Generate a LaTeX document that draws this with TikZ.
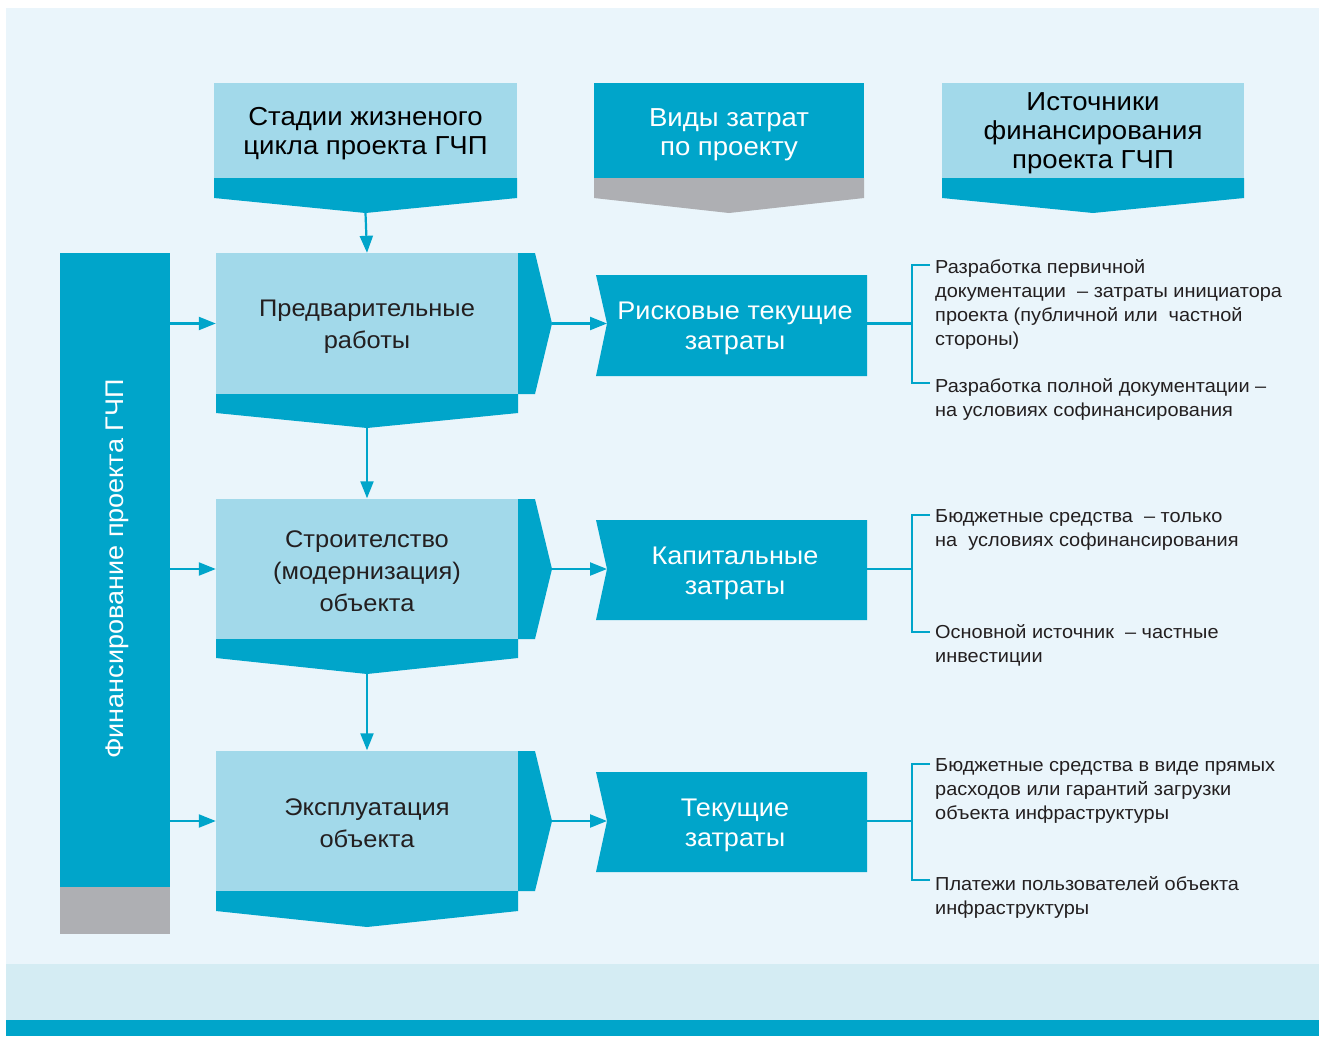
\documentclass[tikz,border=0pt]{standalone}
\usepackage{fontspec}
\setmainfont[FakeStretch=1.06]{Liberation Sans}
\usetikzlibrary{arrows.meta}
\definecolor{cdark}{HTML}{00A5CA}
\definecolor{clight}{HTML}{A2D9EA}
\definecolor{cpanel}{HTML}{EAF5FB}
\definecolor{cband}{HTML}{D4ECF3}
\definecolor{cgrey}{HTML}{AEAFB3}
\definecolor{ctext}{HTML}{231F20}
\begin{document}
\begin{tikzpicture}[x=1pt,y=-1pt,
  dk/.style={fill=cdark, draw=none},
  lt/.style={fill=clight, draw=none},
  headbox/.style={inner sep=0, minimum height=95pt},
  headtext/.style={inner sep=0, align=center, font=\fontsize{26}{29}\selectfont},
  stagebox/.style={lt, minimum width=302pt, minimum height=141pt, inner sep=0},
  stagetext/.style={inner sep=0, align=center, font=\fontsize{24}{32}\selectfont, text=ctext},
  costbox/.style={inner sep=0, minimum width=271pt, minimum height=101pt},
  costtext/.style={inner sep=0, align=center, font=\fontsize{25.5}{30}\selectfont, text=white},
  arr/.style={draw=cdark, line width=2.2pt, -{Triangle[length=17pt,width=13pt]}},
  brk/.style={draw=cdark, line width=2.2pt},
  note/.style={anchor=west, align=left, inner sep=0, font=\fontsize{18.8}{24}\selectfont, text=ctext}
]
% background
\fill[white] (0,0) rectangle (1319,1036);
\fill[cpanel] (6,8) rectangle (1319,964);
\fill[cband] (6,964) rectangle (1319,1020);
\fill[cdark] (6,1020) rectangle (1319,1036);
\useasboundingbox (0,0) rectangle (1319,1036);

% headers
\node[headbox, lt, minimum width=303pt] (h1) at (365.5,130.5) {};
\node[headtext, text=black] (h1t) at ([yshift=-3.5pt]h1.center) {Стадии жизненого\\цикла проекта ГЧП};
\fill[cdark] (214,178) -- (517,178) -- (517,198) -- (365.5,213) -- (214,198) -- cycle;
\coordinate (h1p) at (365.5,213);

\node[headbox, dk, minimum width=270pt] (h2) at (729,130.5) {};
\node[headtext, text=white] (h2t) at ([yshift=-4pt]h2.center) {Виды затрат\\по проекту};
\fill[cgrey] (594,178) -- (864,178) -- (864,198) -- (729,213) -- (594,198) -- cycle;

\node[headbox, lt, minimum width=302pt] (h3) at (1093,130.5) {};
\node[headtext, text=black] (h3t) at ([yshift=-3pt]h3.center) {Источники\\финансирования\\проекта ГЧП};
\fill[cdark] (942,178) -- (1244,178) -- (1244,198) -- (1093,213) -- (942,198) -- cycle;

% left bar
\node[dk, minimum width=110pt, minimum height=634pt, inner sep=0] (fin) at (115,570) {};
\fill[cgrey] (60,887) rectangle (170,934);
\node[rotate=90, text=white, inner sep=0, font=\fontsize{25.5}{28}\selectfont] (fint) at (117,569) {Финансирование проекта ГЧП};

% stages
\node[stagebox] (s1) at (367,323.5) {};
\node[stagetext] (s1t) at ([yshift=-3pt]s1.center) {Предварительные\\работы};
\fill[cdark] (518,253) -- (535,253) -- (552,323.5) -- (535,394) -- (518,394) -- cycle;
\fill[cdark] (216,394) -- (518,394) -- (518,413) -- (367,428) -- (216,413) -- cycle;
\coordinate (s1r) at (552,323.5);
\coordinate (s1b) at (367,428);

\node[stagebox] (s2) at (367,569) {};
\node[stagetext] (s2t) at ([yshift=-2pt]s2.center) {Строителство\\(модернизация)\\объекта};
\fill[cdark] (518,499) -- (535,499) -- (552,569) -- (535,639) -- (518,639) -- cycle;
\fill[cdark] (216,639) -- (518,639) -- (518,658) -- (367,674) -- (216,658) -- cycle;
\coordinate (s2r) at (552,569);
\coordinate (s2b) at (367,674);

\node[stagebox] (s3) at (367,821) {};
\node[stagetext] (s3t) at ([yshift=-2pt]s3.center) {Эксплуатация\\объекта};
\fill[cdark] (518,751) -- (535,751) -- (552,821) -- (535,891) -- (518,891) -- cycle;
\fill[cdark] (216,891) -- (518,891) -- (518,911) -- (367,927) -- (216,911) -- cycle;
\coordinate (s3r) at (552,821);

% cost boxes
\fill[cdark] (596,275) -- (867,275) -- (867,376) -- (596,376) -- (607,323.5) -- cycle;
\node[costbox] (c1) at (731.5,325.5) {};
\node[costtext] (c1t) at ([xshift=3.5pt,yshift=-3pt]c1.center) {Рисковые текущие\\затраты};
\coordinate (c1in) at (607,323.5);

\fill[cdark] (596,520) -- (867,520) -- (867,620) -- (596,620) -- (607,569) -- cycle;
\node[costbox, minimum height=100pt] (c2) at (731.5,570) {};
\node[costtext] (c2t) at ([xshift=3.5pt,yshift=-3pt]c2.center) {Капитальные\\затраты};
\coordinate (c2in) at (607,569);

\fill[cdark] (596,772) -- (867,772) -- (867,872) -- (596,872) -- (607,821) -- cycle;
\node[costbox, minimum height=100pt] (c3) at (731.5,822) {};
\node[costtext] (c3t) at ([xshift=3.5pt,yshift=-3pt]c3.center) {Текущие\\затраты};
\coordinate (c3in) at (607,821);

% arrows
\draw[arr] (h1p) -- (s1.north);
\draw[arr] (s1b) -- (s2.north);
\draw[arr] (s2b) -- (s3.north);
\draw[arr] (fin.east |- s1.west) -- (s1.west);
\draw[arr] (fin.east |- s2.west) -- (s2.west);
\draw[arr] (fin.east |- s3.west) -- (s3.west);
\draw[arr] (s1r) -- (c1in);
\draw[arr] (s2r) -- (c2in);
\draw[arr] (s3r) -- (c3in);

% notes
\node[note] (n1a) at (935,304) {Разработка первичной\\документации ~– затраты инициатора\\проекта (публичной или ~частной\\стороны)};
\node[note] (n1b) at (935,399) {Разработка полной документации –\\на условиях софинансирования};
\node[note] (n2a) at (935,530) {Бюджетные средства ~– только\\на ~условиях софинансирования};
\node[note] (n2b) at (935,645) {Основной источник ~– частные\\инвестиции};
\node[note] (n3a) at (935,791) {Бюджетные средства в виде прямых\\расходов или гарантий загрузки\\объекта инфраструктуры};
\node[note] (n3b) at (935,897) {Платежи пользователей объекта\\инфраструктуры};

% brackets
\coordinate (b1) at (912,323.5);
\coordinate (b2) at (912,569);
\coordinate (b3) at (912,821);
\draw[brk] (c1.east |- b1) -- (b1);
\draw[brk] (c2.east |- b2) -- (b2);
\draw[brk] (c3.east |- b3) -- (b3);
\draw[brk] (930,265) -- (912,265) -- (912,383) -- (930,383);
\draw[brk] (930,515) -- (912,515) -- (912,632) -- (930,632);
\draw[brk] (930,764) -- (912,764) -- (912,880) -- (930,880);
\end{tikzpicture}
\end{document}
